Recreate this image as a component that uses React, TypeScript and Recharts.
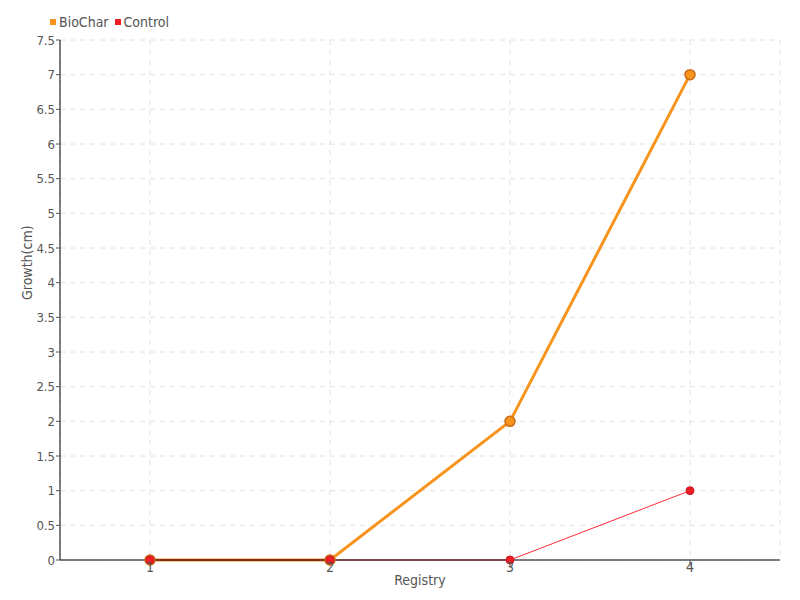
import React from "react";
import { LineChart, Line, XAxis, YAxis, CartesianGrid } from "recharts";

const registry = ["1", "2", "3", "4"];
const bioChar = [0, 0, 2, 7];
const control = [0, 0, 0, 1];
const yTicks = [0, 0.5, 1, 1.5, 2, 2.5, 3, 3.5, 4, 4.5, 5, 5.5, 6, 6.5, 7, 7.5];

const data = registry.map((r, i) => ({ registry: r, BioChar: bioChar[i], Control: control[i] }));

const FONT = "'DejaVu Sans Condensed', 'Liberation Sans Narrow', sans-serif";
const ORANGE = "#f7941d";
const RED = "#ee1c25";

export default function App() {
  return (
    <div style={{ position: "absolute", left: 0, top: 0, width: 800, height: 600, background: "#fff", fontFamily: FONT }}>
      <div style={{ position: "absolute", left: 50, top: 14, display: "flex", alignItems: "center", fontSize: 14, color: "#555", zIndex: 2 }}>
        <span style={{ width: 6, height: 6, background: ORANGE, display: "inline-block", marginRight: 3 }} />
        <span style={{ marginRight: 6 }}>BioChar</span>
        <span style={{ width: 6, height: 6, background: RED, display: "inline-block", marginRight: 3 }} />
        <span>Control</span>
      </div>
      <LineChart width={800} height={600} data={data} margin={{ top: 40, right: 20, left: 0, bottom: 10 }}>
        <CartesianGrid stroke="#e2e2e2" strokeDasharray="5 5" />
        <XAxis
          dataKey="registry"
          padding={{ left: 90, right: 90 }}
          height={30}
          axisLine={{ stroke: "#000" }}
          tick={{ fill: "#555", fontSize: 14, fontFamily: FONT }}
          tickLine={{ stroke: "#555" }}
          tickSize={6}
          tickMargin={-4}
          label={{ value: "Registry", position: "insideBottom", offset: 5, fill: "#555", fontSize: 14, fontFamily: FONT }}
        />
        <YAxis
          type="number"
          domain={[0, 7.5]}
          ticks={yTicks}
          interval={0}
          width={60}
          axisLine={{ stroke: "#000" }}
          tick={{ fill: "#555", fontSize: 13, fontFamily: FONT }}
          tickLine={{ stroke: "#555" }}
          tickSize={4}
          tickMargin={1}
          label={{ value: "Growth(cm)", angle: -90, position: "insideLeft", offset: 27, fill: "#555", fontSize: 14, fontFamily: FONT }}
        />
        <Line
          dataKey="BioChar"
          stroke={ORANGE}
          strokeWidth={3}
          dot={{ r: 5, fill: ORANGE, stroke: "#c86a14", strokeWidth: 1.5 }}
          isAnimationActive={false}
        />
        <Line
          dataKey="Control"
          stroke="#ff2a3a"
          strokeWidth={1}
          dot={{ r: 4, fill: RED, stroke: "#d01820", strokeWidth: 1 }}
          isAnimationActive={false}
        />
      </LineChart>
    </div>
  );
}
